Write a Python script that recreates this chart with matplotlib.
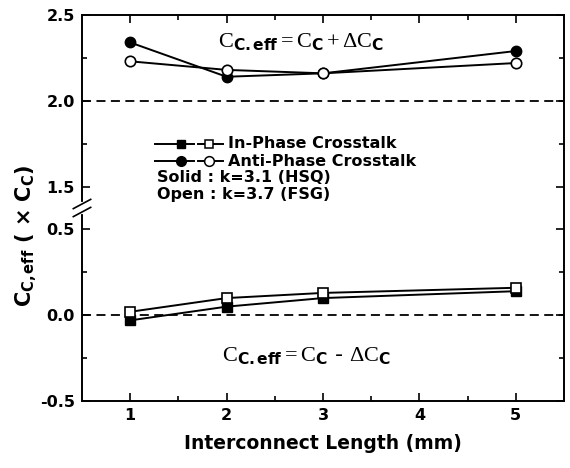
import numpy as np
import matplotlib
matplotlib.use("Agg")
import matplotlib.pyplot as plt
from matplotlib.ticker import FixedLocator, NullFormatter

plt.rcParams["font.family"] = ["DejaVu Sans"]
plt.rcParams["mathtext.fontset"] = "custom"
plt.rcParams["mathtext.rm"] = "Liberation Serif"
plt.rcParams["mathtext.bf"] = "DejaVu Sans:bold"
plt.rcParams["mathtext.it"] = "Liberation Serif:italic"

# ---- data ------------------------------------------------------------------
length = [1, 2, 3, 5]

anti_solid = [2.34, 2.14, 2.16, 2.29]   # k=3.1 (HSQ)
anti_open  = [2.23, 2.18, 2.16, 2.22]   # k=3.7 (FSG)
in_solid   = [-0.03, 0.05, 0.10, 0.14]
in_open    = [0.02, 0.10, 0.13, 0.16]

yticks_major = [-0.5, 0.0, 0.5, 1.5, 2.0, 2.5]
yticks_minor = [-0.25, 0.25, 1.75, 2.25]
ytick_labels = ["-0.5", "0.0", "0.5", "1.5", "2.0", "2.5"]
xticks_major = [1, 2, 3, 4, 5]
xticks_minor = [1.5, 2.5, 3.5, 4.5]

# broken axis: squeeze out the 0.5..1.5 band
def fwd(y):
    y = np.asarray(y, dtype=float)
    return np.where(y > 1.0, y - 0.75, y)

def inv(y):
    y = np.asarray(y, dtype=float)
    return np.where(y > 0.75, y + 0.75, y)

fig = plt.figure(figsize=(5.7, 4.68), dpi=100)
ax = fig.add_axes([82 / 570, 1 - 401 / 468, 482 / 570, 386 / 468])
ax.set_yscale("function", functions=(fwd, inv))

lw = 1.4
ax.plot(length, anti_solid, "-o", color="black", lw=lw, ms=7.5,
        mfc="black", mec="black", zorder=3)
ax.plot(length, anti_open, "-o", color="black", lw=lw, ms=7.5,
        mfc="white", mec="black", mew=1.2, zorder=4)
ax.plot(length, in_solid, "-s", color="black", lw=lw, ms=6.5,
        mfc="black", mec="black", zorder=3)
ax.plot(length, in_open, "-s", color="black", lw=lw, ms=6.5,
        mfc="white", mec="black", mew=1.2, zorder=4)

ax.axhline(2.0, color="black", ls=(0, (5, 3)), lw=1.3, zorder=1)
ax.axhline(0.0, color="black", ls=(0, (5, 3)), lw=1.3, zorder=1)

ax.set_xlim(0.5, 5.5)
ax.set_ylim(-0.5, 2.5)

ax.yaxis.set_major_locator(FixedLocator(yticks_major))
ax.yaxis.set_minor_locator(FixedLocator(yticks_minor))
ax.set_yticklabels(ytick_labels)
ax.yaxis.set_minor_formatter(NullFormatter())
ax.xaxis.set_major_locator(FixedLocator(xticks_major))
ax.xaxis.set_minor_locator(FixedLocator(xticks_minor))

ax.tick_params(which="both", direction="in", top=True, right=True, width=1.2)
ax.tick_params(which="major", length=6, labelsize=11.5, pad=5)
ax.tick_params(which="minor", length=3.5)
for lab in ax.get_xticklabels() + ax.get_yticklabels():
    lab.set_fontweight("bold")
for s in ax.spines.values():
    s.set_linewidth(1.4)

ax.set_xlabel("Interconnect Length (mm)", fontsize=13.5, fontweight="bold", labelpad=8)
ax.set_ylabel(r"$\mathbf{C}_{\mathbf{C,eff}}$ ( × $\mathbf{C}_{\mathbf{C}}$)",
              fontsize=15, fontweight="bold")
ax.yaxis.set_label_coords((38 - 82) / 482, (401 - 236) / 386)

# equations
ax.text(0.455, (401 - 42) / 386,
        r"$\mathrm{C}_{\mathbf{C.eff}} = \mathrm{C}_{\mathbf{C}} + \Delta \mathrm{C}_{\mathbf{C}}$",
        transform=ax.transAxes, ha="center", va="center", fontsize=16)
ax.text(0.465, (401 - 356) / 386,
        r"$\mathrm{C}_{\mathbf{C.eff}} = \mathrm{C}_{\mathbf{C}}$ - $\Delta \mathrm{C}_{\mathbf{C}}$",
        transform=ax.transAxes, ha="center", va="center", fontsize=16)

# hand-drawn legend (axes coords)
def ax_x(px):
    return (px - 82) / 482

def ax_y(py):
    return (401 - py) / 386

for py, mk, ms in [(144, "s", 6.0), (161, "o", 7.0)]:
    y = ax_y(py)
    ax.plot([ax_x(155), ax_x(194)], [y, y], "-", color="black", lw=lw,
            transform=ax.transAxes, clip_on=False)
    ax.plot([ax_x(198), ax_x(223)], [y, y], "-", color="black", lw=lw,
            transform=ax.transAxes, clip_on=False)
    ax.plot([ax_x(181)], [y], mk, color="black", ms=ms, mfc="black",
            transform=ax.transAxes, clip_on=False)
    ax.plot([ax_x(209)], [y], mk, color="black", ms=ms, mfc="white", mew=1.1,
            transform=ax.transAxes, clip_on=False)

legend_txt = ["In-Phase Crosstalk", "Anti-Phase Crosstalk",
              "Solid : k=3.1 (HSQ)", "Open : k=3.7 (FSG)"]
for txt, px, py in zip(legend_txt, [228, 228, 157, 157], [144, 161, 178, 195]):
    ax.text(ax_x(px), ax_y(py), txt, transform=ax.transAxes, ha="left",
            va="center", fontsize=11.5, fontweight="bold")

# axis break marks
yb1, yb2 = ax_y(204), ax_y(212)
ax.plot([0, 0], [yb2, yb1], color="white", lw=3, transform=ax.transAxes,
        clip_on=False, zorder=5)
for yb in (yb1, yb2):
    ax.plot([-0.018, 0.018], [yb - 0.012, yb + 0.012], color="black", lw=1.2,
            transform=ax.transAxes, clip_on=False, zorder=6)

fig.savefig("out.png", dpi=100)
